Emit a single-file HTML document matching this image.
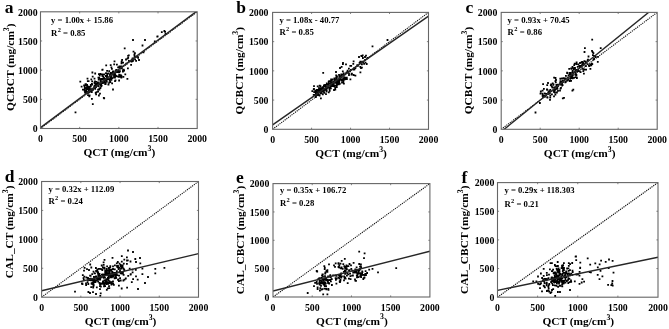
<!DOCTYPE html><html><head><meta charset="utf-8"><style>html,body{margin:0;padding:0;background:#fff;}svg{display:block;filter:grayscale(1);}</style></head><body>
<svg width="669" height="329" viewBox="0 0 669 329" font-family='"Liberation Serif", serif' font-weight="bold">
<rect width="669" height="329" fill="#fff"/>
<g>
<g>
<clipPath id="clipa"><rect x="40.5" y="11.8" width="156.70" height="116.70"/></clipPath>
<path d="M87.4 87.6h1.8v1.8h-1.8zM98.0 73.2h1.8v1.8h-1.8zM106.3 77.7h1.8v1.8h-1.8zM85.1 92.4h1.8v1.8h-1.8zM87.8 86.6h1.8v1.8h-1.8zM119.0 70.3h1.8v1.8h-1.8zM87.0 91.8h1.8v1.8h-1.8zM86.2 85.6h1.8v1.8h-1.8zM116.0 63.8h1.8v1.8h-1.8zM106.3 75.9h1.8v1.8h-1.8zM96.7 82.0h1.8v1.8h-1.8zM101.8 78.1h1.8v1.8h-1.8zM110.4 79.0h1.8v1.8h-1.8zM97.2 90.8h1.8v1.8h-1.8zM87.5 86.9h1.8v1.8h-1.8zM114.5 75.1h1.8v1.8h-1.8zM110.6 78.7h1.8v1.8h-1.8zM104.1 81.7h1.8v1.8h-1.8zM116.4 75.5h1.8v1.8h-1.8zM103.1 77.1h1.8v1.8h-1.8zM122.0 70.6h1.8v1.8h-1.8zM95.2 93.5h1.8v1.8h-1.8zM105.9 81.0h1.8v1.8h-1.8zM100.2 77.9h1.8v1.8h-1.8zM97.8 85.2h1.8v1.8h-1.8zM108.3 81.7h1.8v1.8h-1.8zM92.8 87.2h1.8v1.8h-1.8zM112.4 70.4h1.8v1.8h-1.8zM119.4 76.0h1.8v1.8h-1.8zM85.3 84.3h1.8v1.8h-1.8zM101.9 82.1h1.8v1.8h-1.8zM93.6 84.9h1.8v1.8h-1.8zM83.7 85.6h1.8v1.8h-1.8zM119.8 74.2h1.8v1.8h-1.8zM100.2 82.5h1.8v1.8h-1.8zM86.2 84.1h1.8v1.8h-1.8zM110.0 77.5h1.8v1.8h-1.8zM89.9 85.3h1.8v1.8h-1.8zM113.3 63.5h1.8v1.8h-1.8zM89.9 84.1h1.8v1.8h-1.8zM84.9 91.7h1.8v1.8h-1.8zM92.1 88.9h1.8v1.8h-1.8zM96.6 83.9h1.8v1.8h-1.8zM101.0 80.5h1.8v1.8h-1.8zM118.5 71.4h1.8v1.8h-1.8zM109.1 74.1h1.8v1.8h-1.8zM98.5 87.4h1.8v1.8h-1.8zM84.1 91.7h1.8v1.8h-1.8zM89.8 88.8h1.8v1.8h-1.8zM122.1 69.5h1.8v1.8h-1.8zM98.3 77.0h1.8v1.8h-1.8zM107.8 72.6h1.8v1.8h-1.8zM88.4 95.5h1.8v1.8h-1.8zM85.1 91.9h1.8v1.8h-1.8zM114.6 70.3h1.8v1.8h-1.8zM106.2 78.6h1.8v1.8h-1.8zM93.8 82.6h1.8v1.8h-1.8zM95.8 84.9h1.8v1.8h-1.8zM85.1 87.2h1.8v1.8h-1.8zM90.3 88.4h1.8v1.8h-1.8zM80.7 85.7h1.8v1.8h-1.8zM117.8 76.0h1.8v1.8h-1.8zM99.7 78.7h1.8v1.8h-1.8zM84.6 83.2h1.8v1.8h-1.8zM110.7 73.1h1.8v1.8h-1.8zM89.7 85.6h1.8v1.8h-1.8zM85.8 90.6h1.8v1.8h-1.8zM103.4 73.4h1.8v1.8h-1.8zM118.0 71.4h1.8v1.8h-1.8zM91.9 103.2h1.8v1.8h-1.8zM111.0 68.0h1.8v1.8h-1.8zM91.0 88.2h1.8v1.8h-1.8zM86.0 88.3h1.8v1.8h-1.8zM84.2 91.8h1.8v1.8h-1.8zM90.4 78.4h1.8v1.8h-1.8zM108.3 70.3h1.8v1.8h-1.8zM102.8 81.3h1.8v1.8h-1.8zM115.4 71.0h1.8v1.8h-1.8zM94.8 91.9h1.8v1.8h-1.8zM93.6 81.7h1.8v1.8h-1.8zM93.3 86.0h1.8v1.8h-1.8zM126.5 78.0h1.8v1.8h-1.8zM117.2 66.4h1.8v1.8h-1.8zM94.1 80.4h1.8v1.8h-1.8zM99.6 81.0h1.8v1.8h-1.8zM94.9 83.9h1.8v1.8h-1.8zM113.3 76.5h1.8v1.8h-1.8zM84.9 91.1h1.8v1.8h-1.8zM84.0 87.4h1.8v1.8h-1.8zM98.9 82.6h1.8v1.8h-1.8zM98.0 94.6h1.8v1.8h-1.8zM117.9 75.6h1.8v1.8h-1.8zM105.3 64.4h1.8v1.8h-1.8zM103.5 78.0h1.8v1.8h-1.8zM106.4 72.8h1.8v1.8h-1.8zM110.7 77.1h1.8v1.8h-1.8zM112.4 72.3h1.8v1.8h-1.8zM122.5 75.9h1.8v1.8h-1.8zM90.8 91.2h1.8v1.8h-1.8zM108.8 79.6h1.8v1.8h-1.8zM89.0 88.8h1.8v1.8h-1.8zM99.9 80.8h1.8v1.8h-1.8zM113.7 73.9h1.8v1.8h-1.8zM119.9 74.5h1.8v1.8h-1.8zM113.1 75.2h1.8v1.8h-1.8zM83.7 89.6h1.8v1.8h-1.8zM99.5 87.3h1.8v1.8h-1.8zM89.7 88.3h1.8v1.8h-1.8zM120.9 67.4h1.8v1.8h-1.8zM86.9 85.5h1.8v1.8h-1.8zM91.2 83.8h1.8v1.8h-1.8zM95.3 80.9h1.8v1.8h-1.8zM79.4 80.7h1.8v1.8h-1.8zM118.3 74.1h1.8v1.8h-1.8zM108.5 78.2h1.8v1.8h-1.8zM88.7 87.0h1.8v1.8h-1.8zM104.3 83.2h1.8v1.8h-1.8zM87.0 91.2h1.8v1.8h-1.8zM107.1 78.2h1.8v1.8h-1.8zM86.6 77.7h1.8v1.8h-1.8zM84.1 89.9h1.8v1.8h-1.8zM88.6 90.6h1.8v1.8h-1.8zM107.6 83.7h1.8v1.8h-1.8zM111.2 82.5h1.8v1.8h-1.8zM98.5 88.6h1.8v1.8h-1.8zM105.1 72.2h1.8v1.8h-1.8zM91.8 75.7h1.8v1.8h-1.8zM89.3 90.4h1.8v1.8h-1.8zM95.1 84.1h1.8v1.8h-1.8zM100.2 85.4h1.8v1.8h-1.8zM117.5 69.3h1.8v1.8h-1.8zM88.0 89.6h1.8v1.8h-1.8zM83.2 84.5h1.8v1.8h-1.8zM105.4 79.6h1.8v1.8h-1.8zM118.8 67.0h1.8v1.8h-1.8zM118.3 71.0h1.8v1.8h-1.8zM110.7 76.3h1.8v1.8h-1.8zM85.4 89.6h1.8v1.8h-1.8zM114.4 73.3h1.8v1.8h-1.8zM109.0 75.2h1.8v1.8h-1.8zM90.2 90.7h1.8v1.8h-1.8zM101.8 82.1h1.8v1.8h-1.8zM83.8 88.6h1.8v1.8h-1.8zM112.3 70.4h1.8v1.8h-1.8zM114.1 80.3h1.8v1.8h-1.8zM113.5 71.9h1.8v1.8h-1.8zM114.1 76.7h1.8v1.8h-1.8zM94.1 86.5h1.8v1.8h-1.8zM111.9 70.7h1.8v1.8h-1.8zM91.0 83.1h1.8v1.8h-1.8zM88.6 88.7h1.8v1.8h-1.8zM98.5 83.1h1.8v1.8h-1.8zM103.3 81.7h1.8v1.8h-1.8zM91.3 80.5h1.8v1.8h-1.8zM104.8 75.1h1.8v1.8h-1.8zM105.8 76.8h1.8v1.8h-1.8zM95.6 91.3h1.8v1.8h-1.8zM101.7 68.7h1.8v1.8h-1.8zM97.6 84.5h1.8v1.8h-1.8zM109.9 72.1h1.8v1.8h-1.8zM95.1 86.1h1.8v1.8h-1.8zM112.4 70.8h1.8v1.8h-1.8zM99.7 82.9h1.8v1.8h-1.8zM107.5 83.6h1.8v1.8h-1.8zM109.4 76.6h1.8v1.8h-1.8zM103.7 80.6h1.8v1.8h-1.8zM93.7 86.7h1.8v1.8h-1.8zM118.7 65.6h1.8v1.8h-1.8zM87.9 91.1h1.8v1.8h-1.8zM95.0 83.1h1.8v1.8h-1.8zM102.2 75.7h1.8v1.8h-1.8zM84.1 90.8h1.8v1.8h-1.8zM88.5 87.1h1.8v1.8h-1.8zM115.1 75.0h1.8v1.8h-1.8zM112.8 72.6h1.8v1.8h-1.8zM106.2 74.5h1.8v1.8h-1.8zM120.5 74.9h1.8v1.8h-1.8zM113.9 76.8h1.8v1.8h-1.8zM97.2 88.7h1.8v1.8h-1.8zM108.9 78.2h1.8v1.8h-1.8zM95.8 83.1h1.8v1.8h-1.8zM110.7 72.2h1.8v1.8h-1.8zM97.1 81.4h1.8v1.8h-1.8zM90.9 91.1h1.8v1.8h-1.8zM116.6 70.9h1.8v1.8h-1.8zM106.2 70.0h1.8v1.8h-1.8zM111.3 73.6h1.8v1.8h-1.8zM101.3 73.4h1.8v1.8h-1.8zM113.2 73.4h1.8v1.8h-1.8zM97.5 76.8h1.8v1.8h-1.8zM101.9 73.7h1.8v1.8h-1.8zM85.7 90.5h1.8v1.8h-1.8zM104.0 78.0h1.8v1.8h-1.8zM110.5 66.4h1.8v1.8h-1.8zM111.5 77.2h1.8v1.8h-1.8zM118.2 79.6h1.8v1.8h-1.8zM98.8 74.7h1.8v1.8h-1.8zM120.5 76.6h1.8v1.8h-1.8zM85.7 86.7h1.8v1.8h-1.8zM115.3 68.9h1.8v1.8h-1.8zM96.8 82.1h1.8v1.8h-1.8zM83.5 84.5h1.8v1.8h-1.8zM109.4 81.1h1.8v1.8h-1.8zM101.4 82.3h1.8v1.8h-1.8zM97.8 78.8h1.8v1.8h-1.8zM114.9 70.2h1.8v1.8h-1.8zM85.1 83.2h1.8v1.8h-1.8zM105.8 75.6h1.8v1.8h-1.8zM100.8 84.8h1.8v1.8h-1.8zM99.5 73.1h1.8v1.8h-1.8zM101.1 78.1h1.8v1.8h-1.8zM88.5 88.9h1.8v1.8h-1.8zM104.8 82.9h1.8v1.8h-1.8zM118.7 75.5h1.8v1.8h-1.8zM88.6 85.9h1.8v1.8h-1.8zM82.0 88.8h1.8v1.8h-1.8zM86.6 91.5h1.8v1.8h-1.8zM99.8 79.3h1.8v1.8h-1.8zM119.5 67.2h1.8v1.8h-1.8zM87.1 94.2h1.8v1.8h-1.8zM124.4 73.5h1.8v1.8h-1.8zM104.0 79.6h1.8v1.8h-1.8zM87.3 88.1h1.8v1.8h-1.8zM100.2 83.5h1.8v1.8h-1.8zM86.9 80.2h1.8v1.8h-1.8zM110.2 74.4h1.8v1.8h-1.8zM101.4 75.0h1.8v1.8h-1.8zM99.1 92.8h1.8v1.8h-1.8zM94.3 87.9h1.8v1.8h-1.8zM116.3 71.3h1.8v1.8h-1.8zM111.8 72.6h1.8v1.8h-1.8zM94.3 72.6h1.8v1.8h-1.8zM100.0 84.3h1.8v1.8h-1.8zM114.6 79.4h1.8v1.8h-1.8zM118.4 65.8h1.8v1.8h-1.8zM87.6 92.0h1.8v1.8h-1.8zM90.7 90.2h1.8v1.8h-1.8zM93.6 77.7h1.8v1.8h-1.8zM104.4 82.6h1.8v1.8h-1.8zM88.7 94.5h1.8v1.8h-1.8zM120.7 67.4h1.8v1.8h-1.8zM122.5 69.9h1.8v1.8h-1.8zM120.4 65.6h1.8v1.8h-1.8zM133.7 55.5h1.8v1.8h-1.8zM131.3 60.2h1.8v1.8h-1.8zM131.7 57.5h1.8v1.8h-1.8zM137.2 56.9h1.8v1.8h-1.8zM120.7 60.8h1.8v1.8h-1.8zM138.1 59.1h1.8v1.8h-1.8zM122.2 61.8h1.8v1.8h-1.8zM128.0 59.9h1.8v1.8h-1.8zM127.9 54.4h1.8v1.8h-1.8zM134.2 58.4h1.8v1.8h-1.8zM127.0 67.4h1.8v1.8h-1.8zM130.2 63.9h1.8v1.8h-1.8zM122.7 68.8h1.8v1.8h-1.8zM121.2 59.0h1.8v1.8h-1.8zM134.0 52.2h1.8v1.8h-1.8zM133.5 54.0h1.8v1.8h-1.8zM127.3 56.9h1.8v1.8h-1.8zM135.2 60.0h1.8v1.8h-1.8zM135.0 55.9h1.8v1.8h-1.8zM125.4 62.7h1.8v1.8h-1.8zM136.9 55.7h1.8v1.8h-1.8zM125.1 58.6h1.8v1.8h-1.8zM120.6 62.5h1.8v1.8h-1.8zM126.6 57.7h1.8v1.8h-1.8zM130.7 60.8h1.8v1.8h-1.8zM132.0 59.0h1.8v1.8h-1.8zM132.1 60.0h1.8v1.8h-1.8zM123.2 69.6h1.8v1.8h-1.8zM127.2 55.0h1.8v1.8h-1.8zM133.6 53.6h1.8v1.8h-1.8zM131.2 58.8h1.8v1.8h-1.8zM132.6 50.7h1.8v1.8h-1.8zM142.6 51.4h1.8v1.8h-1.8zM156.4 35.7h1.8v1.8h-1.8zM164.2 30.9h1.8v1.8h-1.8zM164.7 33.1h1.8v1.8h-1.8zM156.7 35.5h1.8v1.8h-1.8zM160.9 31.2h1.8v1.8h-1.8zM74.6 111.5h1.8v1.8h-1.8zM132.1 39.1h1.8v1.8h-1.8zM144.1 39.1h1.8v1.8h-1.8zM163.5 30.1h1.8v1.8h-1.8zM153.9 40.5h1.8v1.8h-1.8zM123.8 47.4h1.8v1.8h-1.8zM103.3 97.4h1.8v1.8h-1.8zM91.0 98.0h1.8v1.8h-1.8zM91.5 71.6h1.8v1.8h-1.8zM109.8 64.3h1.8v1.8h-1.8zM113.6 60.5h1.8v1.8h-1.8zM101.4 68.9h1.8v1.8h-1.8zM112.1 88.6h1.8v1.8h-1.8zM102.9 97.0h1.8v1.8h-1.8zM87.7 80.3h1.8v1.8h-1.8zM141.6 44.6h1.8v1.8h-1.8z" fill="#000" clip-path="url(#clipa)"/>
<line x1="40.5" y1="128.5" x2="197.2" y2="11.8" stroke="#111" stroke-width="1.1" stroke-dasharray="1.2 0.95" clip-path="url(#clipa)"/>
<line x1="40.50" y1="127.57" x2="197.20" y2="10.87" stroke="#262626" stroke-width="1.4" clip-path="url(#clipa)"/>
<rect x="40.5" y="11.8" width="156.70" height="116.70" fill="none" stroke="#666" stroke-width="1.1"/>
<path d="M79.67 128.5v-1.6M79.67 11.8v1.6M40.5 99.33h1.6M197.2 99.33h-1.6M118.85 128.5v-1.6M118.85 11.8v1.6M40.5 70.15h1.6M197.2 70.15h-1.6M158.02 128.5v-1.6M158.02 11.8v1.6M40.5 40.97h1.6M197.2 40.97h-1.6" stroke="#666" stroke-width="0.8"/>
<text x="40.50" y="142.10" font-size="9.8" text-anchor="middle">0</text>
<text x="37.60" y="132.30" font-size="9.8" text-anchor="end">0</text>
<text x="79.67" y="142.10" font-size="9.8" text-anchor="middle">500</text>
<text x="37.60" y="103.12" font-size="9.8" text-anchor="end">500</text>
<text x="118.85" y="142.10" font-size="9.8" text-anchor="middle">1000</text>
<text x="37.60" y="73.95" font-size="9.8" text-anchor="end">1000</text>
<text x="158.02" y="142.10" font-size="9.8" text-anchor="middle">1500</text>
<text x="37.60" y="44.77" font-size="9.8" text-anchor="end">1500</text>
<text x="197.20" y="142.10" font-size="9.8" text-anchor="middle">2000</text>
<text x="37.60" y="15.60" font-size="9.8" text-anchor="end">2000</text>
<text x="119.35" y="156.00" font-size="11.4" text-anchor="middle">QCT (mg/cm<tspan font-size="7.8" dy="-5.2">3</tspan><tspan dy="5.2">)</tspan></text>
<text transform="translate(14.00 67.20) rotate(-90)" x="0" y="0" font-size="11.4" text-anchor="middle">QCBCT (mg/cm<tspan font-size="7.8" dy="-5.2">3</tspan><tspan dy="5.2">)</tspan></text>
<text x="4.70" y="13.00" font-size="17.5">a</text>
<text x="51.00" y="23.40" font-size="8.7" xml:space="preserve">y = 1.00x + 15.86</text>
<text x="51.00" y="35.70" font-size="8.7">R<tspan font-size="6.4" dx="0.4" dy="-4">2</tspan><tspan dy="4"> = 0.85</tspan></text>
</g>
<g>
<clipPath id="clipb"><rect x="272.6" y="12.4" width="155.90" height="116.90"/></clipPath>
<path d="M329.8 85.4h1.8v1.8h-1.8zM315.1 94.5h1.8v1.8h-1.8zM315.0 95.4h1.8v1.8h-1.8zM321.7 88.9h1.8v1.8h-1.8zM333.7 85.3h1.8v1.8h-1.8zM338.9 82.9h1.8v1.8h-1.8zM342.4 73.5h1.8v1.8h-1.8zM341.1 81.7h1.8v1.8h-1.8zM343.4 76.6h1.8v1.8h-1.8zM332.7 80.6h1.8v1.8h-1.8zM336.2 79.3h1.8v1.8h-1.8zM334.3 87.0h1.8v1.8h-1.8zM317.0 94.3h1.8v1.8h-1.8zM312.8 88.4h1.8v1.8h-1.8zM337.5 79.7h1.8v1.8h-1.8zM319.4 89.5h1.8v1.8h-1.8zM338.1 78.6h1.8v1.8h-1.8zM327.3 83.9h1.8v1.8h-1.8zM311.4 90.2h1.8v1.8h-1.8zM332.2 85.2h1.8v1.8h-1.8zM326.1 83.3h1.8v1.8h-1.8zM315.0 91.4h1.8v1.8h-1.8zM320.7 87.4h1.8v1.8h-1.8zM322.0 86.3h1.8v1.8h-1.8zM325.1 88.9h1.8v1.8h-1.8zM336.2 81.4h1.8v1.8h-1.8zM317.6 89.0h1.8v1.8h-1.8zM326.1 83.3h1.8v1.8h-1.8zM331.9 81.3h1.8v1.8h-1.8zM344.6 78.3h1.8v1.8h-1.8zM316.9 91.8h1.8v1.8h-1.8zM315.9 92.7h1.8v1.8h-1.8zM318.8 89.3h1.8v1.8h-1.8zM319.8 88.9h1.8v1.8h-1.8zM318.6 91.1h1.8v1.8h-1.8zM313.1 88.0h1.8v1.8h-1.8zM321.9 93.4h1.8v1.8h-1.8zM319.2 87.7h1.8v1.8h-1.8zM327.7 83.4h1.8v1.8h-1.8zM335.6 84.6h1.8v1.8h-1.8zM325.0 87.4h1.8v1.8h-1.8zM318.5 90.6h1.8v1.8h-1.8zM315.4 90.5h1.8v1.8h-1.8zM319.5 85.2h1.8v1.8h-1.8zM318.8 90.9h1.8v1.8h-1.8zM330.0 87.4h1.8v1.8h-1.8zM339.8 75.5h1.8v1.8h-1.8zM337.8 83.4h1.8v1.8h-1.8zM318.1 87.3h1.8v1.8h-1.8zM313.3 91.3h1.8v1.8h-1.8zM315.9 93.5h1.8v1.8h-1.8zM327.0 85.5h1.8v1.8h-1.8zM325.6 88.4h1.8v1.8h-1.8zM334.0 79.3h1.8v1.8h-1.8zM314.4 89.7h1.8v1.8h-1.8zM318.8 84.7h1.8v1.8h-1.8zM333.5 78.2h1.8v1.8h-1.8zM329.9 80.7h1.8v1.8h-1.8zM327.8 80.8h1.8v1.8h-1.8zM342.4 77.6h1.8v1.8h-1.8zM315.9 90.0h1.8v1.8h-1.8zM316.8 85.5h1.8v1.8h-1.8zM334.4 88.7h1.8v1.8h-1.8zM330.1 81.3h1.8v1.8h-1.8zM342.8 72.6h1.8v1.8h-1.8zM346.0 78.3h1.8v1.8h-1.8zM333.4 85.4h1.8v1.8h-1.8zM335.9 77.0h1.8v1.8h-1.8zM333.5 77.4h1.8v1.8h-1.8zM316.1 88.9h1.8v1.8h-1.8zM333.8 85.0h1.8v1.8h-1.8zM322.5 87.2h1.8v1.8h-1.8zM323.5 85.1h1.8v1.8h-1.8zM318.1 90.6h1.8v1.8h-1.8zM314.9 96.2h1.8v1.8h-1.8zM338.6 74.7h1.8v1.8h-1.8zM335.5 79.5h1.8v1.8h-1.8zM335.4 76.6h1.8v1.8h-1.8zM325.1 93.2h1.8v1.8h-1.8zM328.8 90.0h1.8v1.8h-1.8zM320.0 92.5h1.8v1.8h-1.8zM332.2 82.2h1.8v1.8h-1.8zM340.8 79.6h1.8v1.8h-1.8zM335.3 74.5h1.8v1.8h-1.8zM343.3 76.9h1.8v1.8h-1.8zM319.7 85.8h1.8v1.8h-1.8zM333.8 77.6h1.8v1.8h-1.8zM316.2 89.7h1.8v1.8h-1.8zM329.8 82.9h1.8v1.8h-1.8zM317.4 92.9h1.8v1.8h-1.8zM331.3 85.2h1.8v1.8h-1.8zM330.8 84.2h1.8v1.8h-1.8zM323.0 85.1h1.8v1.8h-1.8zM325.2 88.7h1.8v1.8h-1.8zM335.7 80.2h1.8v1.8h-1.8zM330.0 87.4h1.8v1.8h-1.8zM325.0 84.0h1.8v1.8h-1.8zM313.1 85.3h1.8v1.8h-1.8zM321.5 87.3h1.8v1.8h-1.8zM343.0 82.8h1.8v1.8h-1.8zM344.8 76.7h1.8v1.8h-1.8zM324.8 86.3h1.8v1.8h-1.8zM342.1 79.5h1.8v1.8h-1.8zM341.7 78.6h1.8v1.8h-1.8zM320.7 90.6h1.8v1.8h-1.8zM321.2 87.4h1.8v1.8h-1.8zM335.5 80.9h1.8v1.8h-1.8zM323.2 88.4h1.8v1.8h-1.8zM342.8 74.5h1.8v1.8h-1.8zM323.3 84.3h1.8v1.8h-1.8zM336.6 80.4h1.8v1.8h-1.8zM337.0 82.7h1.8v1.8h-1.8zM320.8 91.1h1.8v1.8h-1.8zM341.5 78.7h1.8v1.8h-1.8zM324.3 88.7h1.8v1.8h-1.8zM320.0 97.4h1.8v1.8h-1.8zM315.0 93.3h1.8v1.8h-1.8zM328.9 87.6h1.8v1.8h-1.8zM335.9 86.3h1.8v1.8h-1.8zM321.9 88.7h1.8v1.8h-1.8zM340.4 78.6h1.8v1.8h-1.8zM323.0 91.0h1.8v1.8h-1.8zM342.4 81.7h1.8v1.8h-1.8zM314.6 93.7h1.8v1.8h-1.8zM322.0 89.6h1.8v1.8h-1.8zM318.3 90.9h1.8v1.8h-1.8zM325.9 82.6h1.8v1.8h-1.8zM325.8 89.6h1.8v1.8h-1.8zM325.4 85.7h1.8v1.8h-1.8zM338.1 74.0h1.8v1.8h-1.8zM331.5 82.6h1.8v1.8h-1.8zM330.2 78.5h1.8v1.8h-1.8zM324.3 84.1h1.8v1.8h-1.8zM339.0 78.7h1.8v1.8h-1.8zM328.0 82.3h1.8v1.8h-1.8zM338.4 82.2h1.8v1.8h-1.8zM340.4 73.4h1.8v1.8h-1.8zM333.0 82.9h1.8v1.8h-1.8zM327.8 86.8h1.8v1.8h-1.8zM323.4 92.0h1.8v1.8h-1.8zM343.5 78.8h1.8v1.8h-1.8zM337.9 80.0h1.8v1.8h-1.8zM338.8 79.0h1.8v1.8h-1.8zM320.1 89.4h1.8v1.8h-1.8zM328.6 88.1h1.8v1.8h-1.8zM340.5 75.8h1.8v1.8h-1.8zM321.7 90.2h1.8v1.8h-1.8zM339.0 78.4h1.8v1.8h-1.8zM330.7 84.2h1.8v1.8h-1.8zM319.8 89.0h1.8v1.8h-1.8zM327.9 91.5h1.8v1.8h-1.8zM314.7 90.7h1.8v1.8h-1.8zM335.0 81.7h1.8v1.8h-1.8zM336.7 80.8h1.8v1.8h-1.8zM314.8 94.5h1.8v1.8h-1.8zM323.3 89.1h1.8v1.8h-1.8zM338.3 80.4h1.8v1.8h-1.8zM320.8 92.1h1.8v1.8h-1.8zM328.3 80.3h1.8v1.8h-1.8zM338.9 78.7h1.8v1.8h-1.8zM329.7 80.3h1.8v1.8h-1.8zM317.3 91.9h1.8v1.8h-1.8zM340.7 74.1h1.8v1.8h-1.8zM335.8 77.7h1.8v1.8h-1.8zM331.1 83.0h1.8v1.8h-1.8zM325.6 90.6h1.8v1.8h-1.8zM332.5 84.2h1.8v1.8h-1.8zM326.0 87.1h1.8v1.8h-1.8zM318.7 94.6h1.8v1.8h-1.8zM315.8 89.2h1.8v1.8h-1.8zM330.2 83.5h1.8v1.8h-1.8zM338.1 80.5h1.8v1.8h-1.8zM336.1 75.6h1.8v1.8h-1.8zM341.9 70.4h1.8v1.8h-1.8zM347.3 70.9h1.8v1.8h-1.8zM333.2 81.0h1.8v1.8h-1.8zM349.1 70.5h1.8v1.8h-1.8zM344.9 72.4h1.8v1.8h-1.8zM343.9 77.8h1.8v1.8h-1.8zM342.0 79.3h1.8v1.8h-1.8zM350.6 73.6h1.8v1.8h-1.8zM338.4 75.9h1.8v1.8h-1.8zM337.2 79.4h1.8v1.8h-1.8zM339.5 77.3h1.8v1.8h-1.8zM331.5 78.4h1.8v1.8h-1.8zM342.3 78.8h1.8v1.8h-1.8zM338.8 78.6h1.8v1.8h-1.8zM340.0 76.2h1.8v1.8h-1.8zM342.5 80.3h1.8v1.8h-1.8zM335.5 82.4h1.8v1.8h-1.8zM345.9 76.7h1.8v1.8h-1.8zM336.3 83.2h1.8v1.8h-1.8zM343.9 77.4h1.8v1.8h-1.8zM330.7 79.3h1.8v1.8h-1.8zM340.3 76.3h1.8v1.8h-1.8zM336.9 82.3h1.8v1.8h-1.8zM338.4 76.3h1.8v1.8h-1.8zM336.4 79.8h1.8v1.8h-1.8zM330.2 84.4h1.8v1.8h-1.8zM336.2 84.0h1.8v1.8h-1.8zM346.7 69.7h1.8v1.8h-1.8zM352.9 68.8h1.8v1.8h-1.8zM356.4 64.3h1.8v1.8h-1.8zM350.3 65.0h1.8v1.8h-1.8zM348.0 67.7h1.8v1.8h-1.8zM362.3 61.2h1.8v1.8h-1.8zM353.5 67.3h1.8v1.8h-1.8zM364.2 58.9h1.8v1.8h-1.8zM354.5 74.7h1.8v1.8h-1.8zM359.8 61.4h1.8v1.8h-1.8zM353.2 67.7h1.8v1.8h-1.8zM362.0 57.1h1.8v1.8h-1.8zM358.7 61.9h1.8v1.8h-1.8zM361.0 63.5h1.8v1.8h-1.8zM348.1 73.0h1.8v1.8h-1.8zM361.4 60.7h1.8v1.8h-1.8zM353.6 68.4h1.8v1.8h-1.8zM361.5 61.4h1.8v1.8h-1.8zM360.4 55.0h1.8v1.8h-1.8zM342.0 63.2h1.8v1.8h-1.8zM349.5 78.5h1.8v1.8h-1.8zM363.2 63.0h1.8v1.8h-1.8zM366.3 57.5h1.8v1.8h-1.8zM361.8 54.5h1.8v1.8h-1.8zM352.4 63.0h1.8v1.8h-1.8zM365.8 63.1h1.8v1.8h-1.8zM340.7 66.0h1.8v1.8h-1.8zM345.8 71.4h1.8v1.8h-1.8zM359.4 65.9h1.8v1.8h-1.8zM357.0 65.0h1.8v1.8h-1.8zM364.6 61.7h1.8v1.8h-1.8zM350.0 69.0h1.8v1.8h-1.8zM359.5 71.5h1.8v1.8h-1.8zM365.1 54.8h1.8v1.8h-1.8zM349.4 65.0h1.8v1.8h-1.8zM354.5 67.3h1.8v1.8h-1.8zM361.0 66.8h1.8v1.8h-1.8zM366.9 57.0h1.8v1.8h-1.8zM351.0 72.7h1.8v1.8h-1.8zM359.4 60.8h1.8v1.8h-1.8zM371.6 45.4h1.8v1.8h-1.8zM386.6 39.1h1.8v1.8h-1.8zM312.8 93.9h1.8v1.8h-1.8zM322.3 71.9h1.8v1.8h-1.8zM335.1 71.1h1.8v1.8h-1.8zM342.1 62.1h1.8v1.8h-1.8zM339.1 67.1h1.8v1.8h-1.8zM345.1 63.5h1.8v1.8h-1.8zM352.7 60.5h1.8v1.8h-1.8zM360.1 67.3h1.8v1.8h-1.8zM348.1 74.1h1.8v1.8h-1.8zM352.7 74.1h1.8v1.8h-1.8zM358.1 56.1h1.8v1.8h-1.8zM361.1 55.1h1.8v1.8h-1.8zM364.1 56.1h1.8v1.8h-1.8zM329.1 87.1h1.8v1.8h-1.8zM333.1 89.1h1.8v1.8h-1.8z" fill="#000" clip-path="url(#clipb)"/>
<line x1="272.6" y1="129.3" x2="428.5" y2="12.4" stroke="#111" stroke-width="1.1" stroke-dasharray="1.2 0.95" clip-path="url(#clipb)"/>
<line x1="272.60" y1="124.86" x2="428.50" y2="16.14" stroke="#262626" stroke-width="1.4" clip-path="url(#clipb)"/>
<rect x="272.6" y="12.4" width="155.90" height="116.90" fill="none" stroke="#666" stroke-width="1.1"/>
<path d="M311.58 129.3v-1.6M311.58 12.4v1.6M272.6 100.08h1.6M428.5 100.08h-1.6M350.55 129.3v-1.6M350.55 12.4v1.6M272.6 70.85h1.6M428.5 70.85h-1.6M389.52 129.3v-1.6M389.52 12.4v1.6M272.6 41.63h1.6M428.5 41.63h-1.6" stroke="#666" stroke-width="0.8"/>
<text x="272.60" y="142.90" font-size="9.8" text-anchor="middle">0</text>
<text x="268.50" y="133.10" font-size="9.8" text-anchor="end">0</text>
<text x="311.58" y="142.90" font-size="9.8" text-anchor="middle">500</text>
<text x="268.50" y="103.88" font-size="9.8" text-anchor="end">500</text>
<text x="350.55" y="142.90" font-size="9.8" text-anchor="middle">1000</text>
<text x="268.50" y="74.65" font-size="9.8" text-anchor="end">1000</text>
<text x="389.52" y="142.90" font-size="9.8" text-anchor="middle">1500</text>
<text x="268.50" y="45.43" font-size="9.8" text-anchor="end">1500</text>
<text x="428.50" y="142.90" font-size="9.8" text-anchor="middle">2000</text>
<text x="268.50" y="16.20" font-size="9.8" text-anchor="end">2000</text>
<text x="351.05" y="156.80" font-size="11.4" text-anchor="middle">QCT (mg/cm<tspan font-size="7.8" dy="-5.2">3</tspan><tspan dy="5.2">)</tspan></text>
<text transform="translate(243.20 70.70) rotate(-90)" x="0" y="0" font-size="11.4" text-anchor="middle">QCBCT (mg/cm<tspan font-size="7.8" dy="-5.2">3</tspan><tspan dy="5.2">)</tspan></text>
<text x="236.30" y="12.80" font-size="17.5">b</text>
<text x="279.40" y="22.50" font-size="8.7" xml:space="preserve">y = 1.08x - 40.77</text>
<text x="279.40" y="35.30" font-size="8.7">R<tspan font-size="6.4" dx="0.4" dy="-4">2</tspan><tspan dy="4"> = 0.85</tspan></text>
</g>
<g>
<clipPath id="clipc"><rect x="501.2" y="12.4" width="156.00" height="116.90"/></clipPath>
<path d="M547.7 92.9h1.8v1.8h-1.8zM554.5 80.3h1.8v1.8h-1.8zM573.9 71.2h1.8v1.8h-1.8zM577.5 63.4h1.8v1.8h-1.8zM566.7 76.7h1.8v1.8h-1.8zM574.8 71.9h1.8v1.8h-1.8zM553.5 89.1h1.8v1.8h-1.8zM577.3 70.2h1.8v1.8h-1.8zM576.8 66.0h1.8v1.8h-1.8zM561.7 84.3h1.8v1.8h-1.8zM551.6 86.8h1.8v1.8h-1.8zM544.2 95.8h1.8v1.8h-1.8zM571.2 76.1h1.8v1.8h-1.8zM569.3 73.5h1.8v1.8h-1.8zM539.6 92.8h1.8v1.8h-1.8zM566.2 79.7h1.8v1.8h-1.8zM581.2 60.9h1.8v1.8h-1.8zM541.6 92.8h1.8v1.8h-1.8zM546.0 88.6h1.8v1.8h-1.8zM546.3 96.2h1.8v1.8h-1.8zM561.0 80.6h1.8v1.8h-1.8zM554.6 77.1h1.8v1.8h-1.8zM581.8 67.9h1.8v1.8h-1.8zM549.1 99.0h1.8v1.8h-1.8zM554.5 93.7h1.8v1.8h-1.8zM582.2 62.3h1.8v1.8h-1.8zM543.1 95.6h1.8v1.8h-1.8zM554.5 88.4h1.8v1.8h-1.8zM561.2 84.7h1.8v1.8h-1.8zM542.2 96.1h1.8v1.8h-1.8zM552.6 83.4h1.8v1.8h-1.8zM570.1 77.2h1.8v1.8h-1.8zM570.4 76.4h1.8v1.8h-1.8zM566.2 71.7h1.8v1.8h-1.8zM570.0 72.7h1.8v1.8h-1.8zM569.6 75.6h1.8v1.8h-1.8zM543.6 94.9h1.8v1.8h-1.8zM571.9 74.8h1.8v1.8h-1.8zM569.3 77.9h1.8v1.8h-1.8zM552.7 89.9h1.8v1.8h-1.8zM560.3 81.3h1.8v1.8h-1.8zM549.9 84.5h1.8v1.8h-1.8zM581.5 67.7h1.8v1.8h-1.8zM557.1 90.0h1.8v1.8h-1.8zM553.1 95.4h1.8v1.8h-1.8zM577.1 68.5h1.8v1.8h-1.8zM575.5 69.7h1.8v1.8h-1.8zM582.4 70.3h1.8v1.8h-1.8zM574.7 76.3h1.8v1.8h-1.8zM561.1 82.5h1.8v1.8h-1.8zM564.4 81.5h1.8v1.8h-1.8zM565.0 75.0h1.8v1.8h-1.8zM569.5 77.0h1.8v1.8h-1.8zM582.0 61.4h1.8v1.8h-1.8zM553.5 86.5h1.8v1.8h-1.8zM575.6 69.2h1.8v1.8h-1.8zM541.9 94.3h1.8v1.8h-1.8zM546.3 84.2h1.8v1.8h-1.8zM582.0 61.4h1.8v1.8h-1.8zM553.8 88.2h1.8v1.8h-1.8zM564.4 78.3h1.8v1.8h-1.8zM581.6 63.5h1.8v1.8h-1.8zM571.7 74.6h1.8v1.8h-1.8zM564.9 80.9h1.8v1.8h-1.8zM574.6 74.0h1.8v1.8h-1.8zM583.5 60.3h1.8v1.8h-1.8zM583.5 63.6h1.8v1.8h-1.8zM549.4 89.0h1.8v1.8h-1.8zM546.5 89.0h1.8v1.8h-1.8zM551.8 82.4h1.8v1.8h-1.8zM548.3 90.8h1.8v1.8h-1.8zM574.0 67.5h1.8v1.8h-1.8zM583.0 72.7h1.8v1.8h-1.8zM548.1 91.0h1.8v1.8h-1.8zM544.8 93.0h1.8v1.8h-1.8zM555.5 83.9h1.8v1.8h-1.8zM576.0 77.1h1.8v1.8h-1.8zM574.1 67.1h1.8v1.8h-1.8zM562.0 79.8h1.8v1.8h-1.8zM568.7 72.1h1.8v1.8h-1.8zM582.2 64.1h1.8v1.8h-1.8zM580.7 65.6h1.8v1.8h-1.8zM549.4 94.8h1.8v1.8h-1.8zM570.7 67.9h1.8v1.8h-1.8zM576.2 69.2h1.8v1.8h-1.8zM585.2 68.8h1.8v1.8h-1.8zM559.5 80.3h1.8v1.8h-1.8zM548.6 90.2h1.8v1.8h-1.8zM561.2 77.5h1.8v1.8h-1.8zM553.2 76.7h1.8v1.8h-1.8zM559.2 82.2h1.8v1.8h-1.8zM579.7 71.3h1.8v1.8h-1.8zM569.8 72.4h1.8v1.8h-1.8zM568.3 67.9h1.8v1.8h-1.8zM571.3 74.2h1.8v1.8h-1.8zM548.5 91.4h1.8v1.8h-1.8zM546.6 96.6h1.8v1.8h-1.8zM561.2 84.7h1.8v1.8h-1.8zM578.9 66.1h1.8v1.8h-1.8zM571.4 74.7h1.8v1.8h-1.8zM573.3 64.2h1.8v1.8h-1.8zM571.7 77.4h1.8v1.8h-1.8zM576.9 69.5h1.8v1.8h-1.8zM588.0 64.4h1.8v1.8h-1.8zM575.5 74.1h1.8v1.8h-1.8zM579.4 65.6h1.8v1.8h-1.8zM584.6 62.1h1.8v1.8h-1.8zM572.9 68.3h1.8v1.8h-1.8zM573.8 62.8h1.8v1.8h-1.8zM545.3 93.0h1.8v1.8h-1.8zM544.0 95.2h1.8v1.8h-1.8zM580.6 61.5h1.8v1.8h-1.8zM553.9 89.6h1.8v1.8h-1.8zM555.7 85.8h1.8v1.8h-1.8zM548.9 92.5h1.8v1.8h-1.8zM568.5 72.2h1.8v1.8h-1.8zM539.9 90.6h1.8v1.8h-1.8zM578.8 70.4h1.8v1.8h-1.8zM556.4 87.3h1.8v1.8h-1.8zM574.6 70.1h1.8v1.8h-1.8zM581.3 63.6h1.8v1.8h-1.8zM571.9 71.5h1.8v1.8h-1.8zM560.5 81.1h1.8v1.8h-1.8zM568.6 73.2h1.8v1.8h-1.8zM575.7 61.5h1.8v1.8h-1.8zM574.9 73.5h1.8v1.8h-1.8zM550.2 83.6h1.8v1.8h-1.8zM541.7 95.0h1.8v1.8h-1.8zM580.2 64.9h1.8v1.8h-1.8zM570.0 75.2h1.8v1.8h-1.8zM541.7 89.8h1.8v1.8h-1.8zM568.7 80.1h1.8v1.8h-1.8zM569.3 77.4h1.8v1.8h-1.8zM556.5 87.9h1.8v1.8h-1.8zM583.6 68.7h1.8v1.8h-1.8zM551.0 85.8h1.8v1.8h-1.8zM542.2 83.2h1.8v1.8h-1.8zM556.3 86.2h1.8v1.8h-1.8zM559.6 87.7h1.8v1.8h-1.8zM583.3 68.5h1.8v1.8h-1.8zM569.9 72.1h1.8v1.8h-1.8zM547.3 91.6h1.8v1.8h-1.8zM560.0 83.2h1.8v1.8h-1.8zM543.0 88.0h1.8v1.8h-1.8zM571.8 70.1h1.8v1.8h-1.8zM578.4 65.0h1.8v1.8h-1.8zM549.3 96.8h1.8v1.8h-1.8zM562.8 77.2h1.8v1.8h-1.8zM556.0 91.6h1.8v1.8h-1.8zM554.7 86.3h1.8v1.8h-1.8zM571.6 66.1h1.8v1.8h-1.8zM589.5 68.0h1.8v1.8h-1.8zM552.4 84.0h1.8v1.8h-1.8zM567.2 78.9h1.8v1.8h-1.8zM559.1 89.7h1.8v1.8h-1.8zM543.8 92.6h1.8v1.8h-1.8zM566.2 72.2h1.8v1.8h-1.8zM551.0 93.4h1.8v1.8h-1.8zM572.5 72.5h1.8v1.8h-1.8zM572.6 67.2h1.8v1.8h-1.8zM546.2 88.5h1.8v1.8h-1.8zM567.6 74.5h1.8v1.8h-1.8zM553.2 91.3h1.8v1.8h-1.8zM575.1 69.0h1.8v1.8h-1.8zM556.0 87.9h1.8v1.8h-1.8zM575.7 76.5h1.8v1.8h-1.8zM573.1 76.9h1.8v1.8h-1.8zM570.2 79.9h1.8v1.8h-1.8zM554.1 91.7h1.8v1.8h-1.8zM575.6 63.3h1.8v1.8h-1.8zM560.1 86.9h1.8v1.8h-1.8zM576.7 70.3h1.8v1.8h-1.8zM562.8 79.4h1.8v1.8h-1.8zM559.7 77.9h1.8v1.8h-1.8zM570.3 67.5h1.8v1.8h-1.8zM554.9 81.5h1.8v1.8h-1.8zM575.7 69.7h1.8v1.8h-1.8zM559.4 77.8h1.8v1.8h-1.8zM573.1 68.5h1.8v1.8h-1.8zM571.6 70.5h1.8v1.8h-1.8zM585.0 65.2h1.8v1.8h-1.8zM559.5 81.3h1.8v1.8h-1.8zM557.2 83.7h1.8v1.8h-1.8zM588.5 65.1h1.8v1.8h-1.8zM564.2 77.5h1.8v1.8h-1.8zM591.8 51.3h1.8v1.8h-1.8zM584.9 60.8h1.8v1.8h-1.8zM586.6 63.2h1.8v1.8h-1.8zM588.3 65.1h1.8v1.8h-1.8zM587.1 58.8h1.8v1.8h-1.8zM589.5 63.7h1.8v1.8h-1.8zM597.1 56.0h1.8v1.8h-1.8zM592.0 54.2h1.8v1.8h-1.8zM591.1 49.9h1.8v1.8h-1.8zM592.6 58.8h1.8v1.8h-1.8zM594.5 56.1h1.8v1.8h-1.8zM596.9 61.0h1.8v1.8h-1.8zM590.9 62.7h1.8v1.8h-1.8zM593.2 58.0h1.8v1.8h-1.8zM591.4 63.3h1.8v1.8h-1.8zM587.6 55.6h1.8v1.8h-1.8zM593.7 55.1h1.8v1.8h-1.8zM586.8 59.5h1.8v1.8h-1.8zM590.4 64.4h1.8v1.8h-1.8zM594.8 55.7h1.8v1.8h-1.8zM583.6 51.1h1.8v1.8h-1.8zM589.6 63.6h1.8v1.8h-1.8zM563.1 97.0h1.8v1.8h-1.8zM572.4 88.8h1.8v1.8h-1.8zM591.3 38.8h1.8v1.8h-1.8zM599.8 47.3h1.8v1.8h-1.8zM584.0 47.3h1.8v1.8h-1.8zM592.5 52.2h1.8v1.8h-1.8zM534.6 111.6h1.8v1.8h-1.8zM539.0 102.1h1.8v1.8h-1.8zM561.9 97.4h1.8v1.8h-1.8zM571.5 89.8h1.8v1.8h-1.8zM555.1 79.1h1.8v1.8h-1.8zM579.1 62.1h1.8v1.8h-1.8zM547.1 82.1h1.8v1.8h-1.8z" fill="#000" clip-path="url(#clipc)"/>
<line x1="501.2" y1="129.3" x2="657.2" y2="12.4" stroke="#111" stroke-width="1.1" stroke-dasharray="1.2 0.95" clip-path="url(#clipc)"/>
<line x1="501.20" y1="131.68" x2="657.20" y2="5.43" stroke="#262626" stroke-width="1.4" clip-path="url(#clipc)"/>
<rect x="501.2" y="12.4" width="156.00" height="116.90" fill="none" stroke="#666" stroke-width="1.1"/>
<path d="M540.20 129.3v-1.6M540.20 12.4v1.6M501.2 100.08h1.6M657.2 100.08h-1.6M579.20 129.3v-1.6M579.20 12.4v1.6M501.2 70.85h1.6M657.2 70.85h-1.6M618.20 129.3v-1.6M618.20 12.4v1.6M501.2 41.63h1.6M657.2 41.63h-1.6" stroke="#666" stroke-width="0.8"/>
<text x="501.20" y="142.90" font-size="9.8" text-anchor="middle">0</text>
<text x="497.40" y="133.10" font-size="9.8" text-anchor="end">0</text>
<text x="540.20" y="142.90" font-size="9.8" text-anchor="middle">500</text>
<text x="497.40" y="103.88" font-size="9.8" text-anchor="end">500</text>
<text x="579.20" y="142.90" font-size="9.8" text-anchor="middle">1000</text>
<text x="497.40" y="74.65" font-size="9.8" text-anchor="end">1000</text>
<text x="618.20" y="142.90" font-size="9.8" text-anchor="middle">1500</text>
<text x="497.40" y="45.43" font-size="9.8" text-anchor="end">1500</text>
<text x="657.20" y="142.90" font-size="9.8" text-anchor="middle">2000</text>
<text x="497.40" y="16.20" font-size="9.8" text-anchor="end">2000</text>
<text x="579.70" y="156.80" font-size="11.4" text-anchor="middle">QCT (mg/cm<tspan font-size="7.8" dy="-5.2">3</tspan><tspan dy="5.2">)</tspan></text>
<text transform="translate(471.90 70.50) rotate(-90)" x="0" y="0" font-size="11.4" text-anchor="middle">QCBCT (mg/cm<tspan font-size="7.8" dy="-5.2">3</tspan><tspan dy="5.2">)</tspan></text>
<text x="465.50" y="13.00" font-size="17.5">c</text>
<text x="507.60" y="22.50" font-size="8.7" xml:space="preserve">y = 0.93x + 70.45</text>
<text x="507.60" y="35.30" font-size="8.7">R<tspan font-size="6.4" dx="0.4" dy="-4">2</tspan><tspan dy="4"> = 0.86</tspan></text>
</g>
<g>
<clipPath id="clipd"><rect x="41.6" y="181.5" width="156.90" height="115.70"/></clipPath>
<path d="M93.3 277.8h1.8v1.8h-1.8zM109.4 265.2h1.8v1.8h-1.8zM97.7 275.6h1.8v1.8h-1.8zM108.1 285.2h1.8v1.8h-1.8zM108.8 269.2h1.8v1.8h-1.8zM103.5 267.8h1.8v1.8h-1.8zM93.6 280.9h1.8v1.8h-1.8zM119.8 279.6h1.8v1.8h-1.8zM108.7 280.4h1.8v1.8h-1.8zM102.5 273.8h1.8v1.8h-1.8zM111.0 275.0h1.8v1.8h-1.8zM97.9 278.8h1.8v1.8h-1.8zM124.9 277.6h1.8v1.8h-1.8zM108.4 287.2h1.8v1.8h-1.8zM107.0 274.1h1.8v1.8h-1.8zM108.6 282.1h1.8v1.8h-1.8zM93.0 276.0h1.8v1.8h-1.8zM91.4 281.9h1.8v1.8h-1.8zM104.3 269.8h1.8v1.8h-1.8zM106.0 270.5h1.8v1.8h-1.8zM118.2 274.7h1.8v1.8h-1.8zM106.9 269.5h1.8v1.8h-1.8zM92.7 283.4h1.8v1.8h-1.8zM108.1 271.2h1.8v1.8h-1.8zM112.2 274.0h1.8v1.8h-1.8zM113.9 272.7h1.8v1.8h-1.8zM106.4 272.9h1.8v1.8h-1.8zM90.3 279.4h1.8v1.8h-1.8zM117.1 278.9h1.8v1.8h-1.8zM99.4 295.0h1.8v1.8h-1.8zM107.8 267.5h1.8v1.8h-1.8zM86.7 281.2h1.8v1.8h-1.8zM111.2 272.8h1.8v1.8h-1.8zM93.6 272.4h1.8v1.8h-1.8zM115.2 274.6h1.8v1.8h-1.8zM121.0 266.3h1.8v1.8h-1.8zM115.6 272.3h1.8v1.8h-1.8zM92.3 285.5h1.8v1.8h-1.8zM90.4 266.6h1.8v1.8h-1.8zM94.2 279.2h1.8v1.8h-1.8zM110.9 276.5h1.8v1.8h-1.8zM105.7 269.4h1.8v1.8h-1.8zM105.6 278.2h1.8v1.8h-1.8zM107.0 276.9h1.8v1.8h-1.8zM108.9 272.2h1.8v1.8h-1.8zM111.7 280.9h1.8v1.8h-1.8zM119.6 264.1h1.8v1.8h-1.8zM103.4 279.4h1.8v1.8h-1.8zM105.1 273.8h1.8v1.8h-1.8zM81.9 274.3h1.8v1.8h-1.8zM88.7 277.9h1.8v1.8h-1.8zM95.3 275.4h1.8v1.8h-1.8zM91.5 283.2h1.8v1.8h-1.8zM103.6 266.7h1.8v1.8h-1.8zM114.0 272.0h1.8v1.8h-1.8zM97.9 274.2h1.8v1.8h-1.8zM100.0 285.8h1.8v1.8h-1.8zM96.2 270.6h1.8v1.8h-1.8zM105.9 281.3h1.8v1.8h-1.8zM95.0 267.1h1.8v1.8h-1.8zM108.1 276.6h1.8v1.8h-1.8zM106.1 274.2h1.8v1.8h-1.8zM107.3 276.9h1.8v1.8h-1.8zM110.3 269.8h1.8v1.8h-1.8zM100.8 264.6h1.8v1.8h-1.8zM102.6 266.6h1.8v1.8h-1.8zM123.6 278.7h1.8v1.8h-1.8zM102.8 277.0h1.8v1.8h-1.8zM110.4 268.8h1.8v1.8h-1.8zM104.8 280.6h1.8v1.8h-1.8zM97.1 272.6h1.8v1.8h-1.8zM97.1 272.6h1.8v1.8h-1.8zM92.6 270.8h1.8v1.8h-1.8zM104.6 282.3h1.8v1.8h-1.8zM99.1 288.2h1.8v1.8h-1.8zM97.2 271.2h1.8v1.8h-1.8zM116.4 274.2h1.8v1.8h-1.8zM102.8 281.5h1.8v1.8h-1.8zM118.0 284.7h1.8v1.8h-1.8zM102.7 261.4h1.8v1.8h-1.8zM112.4 274.3h1.8v1.8h-1.8zM97.3 280.8h1.8v1.8h-1.8zM102.6 266.9h1.8v1.8h-1.8zM131.7 271.4h1.8v1.8h-1.8zM112.1 274.7h1.8v1.8h-1.8zM114.6 277.2h1.8v1.8h-1.8zM104.7 271.7h1.8v1.8h-1.8zM112.7 275.8h1.8v1.8h-1.8zM89.7 275.0h1.8v1.8h-1.8zM94.6 281.1h1.8v1.8h-1.8zM107.7 275.4h1.8v1.8h-1.8zM111.2 271.4h1.8v1.8h-1.8zM96.7 268.6h1.8v1.8h-1.8zM103.1 285.4h1.8v1.8h-1.8zM100.5 282.7h1.8v1.8h-1.8zM102.0 281.0h1.8v1.8h-1.8zM89.2 274.8h1.8v1.8h-1.8zM87.1 277.1h1.8v1.8h-1.8zM104.2 285.2h1.8v1.8h-1.8zM85.2 284.1h1.8v1.8h-1.8zM91.3 273.2h1.8v1.8h-1.8zM95.8 277.5h1.8v1.8h-1.8zM91.7 279.0h1.8v1.8h-1.8zM105.1 273.9h1.8v1.8h-1.8zM96.8 271.4h1.8v1.8h-1.8zM103.6 282.9h1.8v1.8h-1.8zM92.7 281.5h1.8v1.8h-1.8zM94.6 276.3h1.8v1.8h-1.8zM106.2 265.5h1.8v1.8h-1.8zM105.9 271.4h1.8v1.8h-1.8zM97.8 276.8h1.8v1.8h-1.8zM107.8 279.7h1.8v1.8h-1.8zM104.3 273.1h1.8v1.8h-1.8zM105.9 281.5h1.8v1.8h-1.8zM120.0 272.5h1.8v1.8h-1.8zM97.4 272.5h1.8v1.8h-1.8zM103.6 258.9h1.8v1.8h-1.8zM105.7 268.0h1.8v1.8h-1.8zM98.2 267.9h1.8v1.8h-1.8zM90.0 277.7h1.8v1.8h-1.8zM110.5 275.9h1.8v1.8h-1.8zM107.3 282.9h1.8v1.8h-1.8zM103.2 275.5h1.8v1.8h-1.8zM101.4 269.1h1.8v1.8h-1.8zM105.9 289.0h1.8v1.8h-1.8zM93.4 279.7h1.8v1.8h-1.8zM105.4 273.5h1.8v1.8h-1.8zM82.9 278.7h1.8v1.8h-1.8zM100.5 268.2h1.8v1.8h-1.8zM87.4 283.1h1.8v1.8h-1.8zM99.3 278.8h1.8v1.8h-1.8zM112.3 283.0h1.8v1.8h-1.8zM101.2 282.7h1.8v1.8h-1.8zM98.5 281.9h1.8v1.8h-1.8zM109.7 281.7h1.8v1.8h-1.8zM99.2 274.9h1.8v1.8h-1.8zM97.5 274.3h1.8v1.8h-1.8zM98.2 276.5h1.8v1.8h-1.8zM117.1 265.1h1.8v1.8h-1.8zM109.4 273.4h1.8v1.8h-1.8zM107.2 272.8h1.8v1.8h-1.8zM90.6 282.6h1.8v1.8h-1.8zM109.1 274.3h1.8v1.8h-1.8zM86.1 268.3h1.8v1.8h-1.8zM107.6 274.9h1.8v1.8h-1.8zM92.3 286.7h1.8v1.8h-1.8zM120.9 260.7h1.8v1.8h-1.8zM83.4 275.8h1.8v1.8h-1.8zM115.5 273.0h1.8v1.8h-1.8zM109.3 266.4h1.8v1.8h-1.8zM82.6 277.2h1.8v1.8h-1.8zM99.9 276.8h1.8v1.8h-1.8zM116.1 264.9h1.8v1.8h-1.8zM114.9 274.8h1.8v1.8h-1.8zM85.1 282.4h1.8v1.8h-1.8zM95.2 270.1h1.8v1.8h-1.8zM89.8 279.0h1.8v1.8h-1.8zM92.8 284.6h1.8v1.8h-1.8zM95.3 276.6h1.8v1.8h-1.8zM122.7 273.9h1.8v1.8h-1.8zM104.6 279.3h1.8v1.8h-1.8zM99.6 275.2h1.8v1.8h-1.8zM100.1 282.4h1.8v1.8h-1.8zM110.0 276.5h1.8v1.8h-1.8zM108.5 268.7h1.8v1.8h-1.8zM93.2 281.2h1.8v1.8h-1.8zM119.2 277.3h1.8v1.8h-1.8zM91.8 283.3h1.8v1.8h-1.8zM98.6 273.1h1.8v1.8h-1.8zM107.8 277.5h1.8v1.8h-1.8zM122.5 279.6h1.8v1.8h-1.8zM99.0 278.2h1.8v1.8h-1.8zM107.0 282.1h1.8v1.8h-1.8zM118.0 280.2h1.8v1.8h-1.8zM109.0 274.3h1.8v1.8h-1.8zM115.3 277.0h1.8v1.8h-1.8zM113.1 271.9h1.8v1.8h-1.8zM106.5 281.5h1.8v1.8h-1.8zM109.0 274.0h1.8v1.8h-1.8zM111.5 270.7h1.8v1.8h-1.8zM102.0 276.0h1.8v1.8h-1.8zM119.4 271.7h1.8v1.8h-1.8zM81.6 283.2h1.8v1.8h-1.8zM93.1 281.0h1.8v1.8h-1.8zM116.3 266.0h1.8v1.8h-1.8zM106.1 271.4h1.8v1.8h-1.8zM95.9 279.8h1.8v1.8h-1.8zM107.1 277.9h1.8v1.8h-1.8zM114.1 273.9h1.8v1.8h-1.8zM99.8 292.4h1.8v1.8h-1.8zM112.1 280.6h1.8v1.8h-1.8zM101.0 276.0h1.8v1.8h-1.8zM102.1 280.6h1.8v1.8h-1.8zM103.4 283.9h1.8v1.8h-1.8zM114.8 275.5h1.8v1.8h-1.8zM88.1 269.1h1.8v1.8h-1.8zM98.6 277.7h1.8v1.8h-1.8zM109.6 274.9h1.8v1.8h-1.8zM92.1 291.3h1.8v1.8h-1.8zM83.1 269.7h1.8v1.8h-1.8zM110.5 283.6h1.8v1.8h-1.8zM102.2 275.3h1.8v1.8h-1.8zM102.1 281.9h1.8v1.8h-1.8zM103.6 274.2h1.8v1.8h-1.8zM92.2 279.7h1.8v1.8h-1.8zM135.1 275.5h1.8v1.8h-1.8zM92.0 279.2h1.8v1.8h-1.8zM99.1 283.3h1.8v1.8h-1.8zM87.1 279.3h1.8v1.8h-1.8zM97.4 275.0h1.8v1.8h-1.8zM118.5 271.3h1.8v1.8h-1.8zM102.0 273.4h1.8v1.8h-1.8zM108.6 274.2h1.8v1.8h-1.8zM99.0 285.2h1.8v1.8h-1.8zM120.3 265.2h1.8v1.8h-1.8zM102.0 266.5h1.8v1.8h-1.8zM89.0 279.3h1.8v1.8h-1.8zM112.9 283.9h1.8v1.8h-1.8zM99.8 283.2h1.8v1.8h-1.8zM110.7 282.3h1.8v1.8h-1.8zM105.6 283.1h1.8v1.8h-1.8zM104.3 271.6h1.8v1.8h-1.8zM104.1 276.7h1.8v1.8h-1.8zM89.3 263.6h1.8v1.8h-1.8zM85.5 276.6h1.8v1.8h-1.8zM113.7 277.4h1.8v1.8h-1.8zM99.0 267.9h1.8v1.8h-1.8zM102.8 264.0h1.8v1.8h-1.8zM95.8 270.2h1.8v1.8h-1.8zM81.0 282.6h1.8v1.8h-1.8zM90.3 286.2h1.8v1.8h-1.8zM120.8 287.6h1.8v1.8h-1.8zM95.9 286.4h1.8v1.8h-1.8zM96.4 268.8h1.8v1.8h-1.8zM83.7 266.9h1.8v1.8h-1.8zM97.0 278.6h1.8v1.8h-1.8zM99.8 283.4h1.8v1.8h-1.8zM98.0 267.9h1.8v1.8h-1.8zM101.0 273.7h1.8v1.8h-1.8zM95.1 275.5h1.8v1.8h-1.8zM96.3 278.1h1.8v1.8h-1.8zM102.1 275.5h1.8v1.8h-1.8zM106.6 278.7h1.8v1.8h-1.8zM102.3 282.9h1.8v1.8h-1.8zM121.2 272.6h1.8v1.8h-1.8zM105.6 280.3h1.8v1.8h-1.8zM106.8 287.4h1.8v1.8h-1.8zM94.1 272.4h1.8v1.8h-1.8zM112.1 268.1h1.8v1.8h-1.8zM92.1 282.0h1.8v1.8h-1.8zM87.5 291.1h1.8v1.8h-1.8zM92.2 280.0h1.8v1.8h-1.8zM110.5 281.3h1.8v1.8h-1.8zM89.8 277.7h1.8v1.8h-1.8zM117.5 278.6h1.8v1.8h-1.8zM111.6 256.9h1.8v1.8h-1.8zM119.8 265.5h1.8v1.8h-1.8zM118.6 267.0h1.8v1.8h-1.8zM119.1 269.6h1.8v1.8h-1.8zM122.9 262.7h1.8v1.8h-1.8zM121.7 264.6h1.8v1.8h-1.8zM113.9 268.4h1.8v1.8h-1.8zM120.8 264.6h1.8v1.8h-1.8zM108.1 267.1h1.8v1.8h-1.8zM121.6 266.5h1.8v1.8h-1.8zM129.6 260.6h1.8v1.8h-1.8zM120.2 271.4h1.8v1.8h-1.8zM118.6 262.8h1.8v1.8h-1.8zM117.0 266.5h1.8v1.8h-1.8zM120.6 264.6h1.8v1.8h-1.8zM114.0 264.4h1.8v1.8h-1.8zM120.3 267.7h1.8v1.8h-1.8zM116.0 270.2h1.8v1.8h-1.8zM115.5 271.8h1.8v1.8h-1.8zM117.7 268.3h1.8v1.8h-1.8zM116.2 264.9h1.8v1.8h-1.8zM108.7 270.9h1.8v1.8h-1.8zM126.1 259.6h1.8v1.8h-1.8zM117.5 266.5h1.8v1.8h-1.8zM108.7 269.7h1.8v1.8h-1.8zM122.4 267.4h1.8v1.8h-1.8zM115.9 262.5h1.8v1.8h-1.8zM116.9 261.1h1.8v1.8h-1.8zM121.3 271.5h1.8v1.8h-1.8zM112.1 265.4h1.8v1.8h-1.8zM141.5 267.7h1.8v1.8h-1.8zM123.4 258.8h1.8v1.8h-1.8zM136.8 278.7h1.8v1.8h-1.8zM141.5 273.3h1.8v1.8h-1.8zM126.2 286.7h1.8v1.8h-1.8zM120.9 255.3h1.8v1.8h-1.8zM129.7 273.6h1.8v1.8h-1.8zM131.6 268.7h1.8v1.8h-1.8zM134.9 269.0h1.8v1.8h-1.8zM132.2 278.2h1.8v1.8h-1.8zM126.0 262.9h1.8v1.8h-1.8zM122.8 267.9h1.8v1.8h-1.8zM126.9 259.4h1.8v1.8h-1.8zM129.9 273.2h1.8v1.8h-1.8zM123.4 269.1h1.8v1.8h-1.8zM126.0 256.5h1.8v1.8h-1.8zM139.4 262.5h1.8v1.8h-1.8zM128.8 267.8h1.8v1.8h-1.8zM122.0 272.1h1.8v1.8h-1.8zM134.4 258.1h1.8v1.8h-1.8zM127.3 274.9h1.8v1.8h-1.8zM130.9 281.3h1.8v1.8h-1.8zM154.4 267.9h1.8v1.8h-1.8zM163.5 266.9h1.8v1.8h-1.8zM147.1 276.1h1.8v1.8h-1.8zM154.4 272.4h1.8v1.8h-1.8zM81.4 282.5h1.8v1.8h-1.8zM74.1 290.7h1.8v1.8h-1.8zM127.1 249.6h1.8v1.8h-1.8zM132.1 251.1h1.8v1.8h-1.8zM139.1 257.1h1.8v1.8h-1.8zM135.1 261.1h1.8v1.8h-1.8zM144.1 282.1h1.8v1.8h-1.8zM137.1 288.1h1.8v1.8h-1.8zM89.1 292.1h1.8v1.8h-1.8zM95.1 293.1h1.8v1.8h-1.8z" fill="#000" clip-path="url(#clipd)"/>
<line x1="41.6" y1="297.2" x2="198.5" y2="181.5" stroke="#111" stroke-width="1.1" stroke-dasharray="1.2 0.95" clip-path="url(#clipd)"/>
<line x1="41.60" y1="290.72" x2="198.50" y2="253.69" stroke="#262626" stroke-width="1.4" clip-path="url(#clipd)"/>
<rect x="41.6" y="181.5" width="156.90" height="115.70" fill="none" stroke="#666" stroke-width="1.1"/>
<path d="M80.83 297.2v-1.6M80.83 181.5v1.6M41.6 268.27h1.6M198.5 268.27h-1.6M120.05 297.2v-1.6M120.05 181.5v1.6M41.6 239.35h1.6M198.5 239.35h-1.6M159.28 297.2v-1.6M159.28 181.5v1.6M41.6 210.43h1.6M198.5 210.43h-1.6" stroke="#666" stroke-width="0.8"/>
<text x="41.60" y="310.80" font-size="9.8" text-anchor="middle">0</text>
<text x="37.80" y="301.00" font-size="9.8" text-anchor="end">0</text>
<text x="80.83" y="310.80" font-size="9.8" text-anchor="middle">500</text>
<text x="37.80" y="272.07" font-size="9.8" text-anchor="end">500</text>
<text x="120.05" y="310.80" font-size="9.8" text-anchor="middle">1000</text>
<text x="37.80" y="243.15" font-size="9.8" text-anchor="end">1000</text>
<text x="159.28" y="310.80" font-size="9.8" text-anchor="middle">1500</text>
<text x="37.80" y="214.23" font-size="9.8" text-anchor="end">1500</text>
<text x="198.50" y="310.80" font-size="9.8" text-anchor="middle">2000</text>
<text x="37.80" y="185.30" font-size="9.8" text-anchor="end">2000</text>
<text x="120.55" y="324.70" font-size="11.4" text-anchor="middle">QCT (mg/cm<tspan font-size="7.8" dy="-5.2">3</tspan><tspan dy="5.2">)</tspan></text>
<text transform="translate(13.00 231.85) rotate(-90)" x="0" y="0" font-size="11.4" text-anchor="middle">CAL_CT (mg/cm<tspan font-size="7.8" dy="-5.2">3</tspan><tspan dy="5.2">)</tspan></text>
<text x="4.70" y="182.30" font-size="17.5">d</text>
<text x="48.40" y="191.50" font-size="8.7" xml:space="preserve">y = 0.32x + 112.09</text>
<text x="48.40" y="204.30" font-size="8.7">R<tspan font-size="6.4" dx="0.4" dy="-4">2</tspan><tspan dy="4"> = 0.24</tspan></text>
</g>
<g>
<clipPath id="clipe"><rect x="273.0" y="183.6" width="156.90" height="113.40"/></clipPath>
<path d="M318.2 277.4h1.8v1.8h-1.8zM324.6 278.9h1.8v1.8h-1.8zM323.8 268.2h1.8v1.8h-1.8zM323.5 282.3h1.8v1.8h-1.8zM321.4 278.5h1.8v1.8h-1.8zM323.4 281.3h1.8v1.8h-1.8zM320.7 282.3h1.8v1.8h-1.8zM315.8 270.1h1.8v1.8h-1.8zM326.5 293.5h1.8v1.8h-1.8zM318.6 281.2h1.8v1.8h-1.8zM322.2 281.4h1.8v1.8h-1.8zM326.5 270.6h1.8v1.8h-1.8zM323.3 283.9h1.8v1.8h-1.8zM335.5 282.8h1.8v1.8h-1.8zM316.9 278.6h1.8v1.8h-1.8zM319.8 282.0h1.8v1.8h-1.8zM323.6 287.7h1.8v1.8h-1.8zM329.3 278.9h1.8v1.8h-1.8zM322.1 275.8h1.8v1.8h-1.8zM316.7 288.1h1.8v1.8h-1.8zM328.3 282.3h1.8v1.8h-1.8zM319.0 279.9h1.8v1.8h-1.8zM322.3 293.5h1.8v1.8h-1.8zM327.1 281.8h1.8v1.8h-1.8zM320.1 280.0h1.8v1.8h-1.8zM321.1 282.4h1.8v1.8h-1.8zM325.4 278.7h1.8v1.8h-1.8zM322.2 282.1h1.8v1.8h-1.8zM324.4 281.7h1.8v1.8h-1.8zM318.9 277.3h1.8v1.8h-1.8zM322.6 279.5h1.8v1.8h-1.8zM318.2 282.6h1.8v1.8h-1.8zM316.1 283.0h1.8v1.8h-1.8zM331.0 284.1h1.8v1.8h-1.8zM325.2 285.2h1.8v1.8h-1.8zM327.3 282.2h1.8v1.8h-1.8zM318.8 283.7h1.8v1.8h-1.8zM323.0 278.7h1.8v1.8h-1.8zM322.2 279.4h1.8v1.8h-1.8zM316.7 286.5h1.8v1.8h-1.8zM325.6 269.9h1.8v1.8h-1.8zM319.9 282.8h1.8v1.8h-1.8zM322.2 298.1h1.8v1.8h-1.8zM316.3 270.6h1.8v1.8h-1.8zM327.6 289.0h1.8v1.8h-1.8zM326.5 271.0h1.8v1.8h-1.8zM324.9 282.7h1.8v1.8h-1.8zM319.0 289.6h1.8v1.8h-1.8zM320.7 288.8h1.8v1.8h-1.8zM328.6 275.6h1.8v1.8h-1.8zM321.9 273.4h1.8v1.8h-1.8zM324.3 272.6h1.8v1.8h-1.8zM323.8 284.4h1.8v1.8h-1.8zM318.1 278.3h1.8v1.8h-1.8zM330.0 280.5h1.8v1.8h-1.8zM314.2 281.9h1.8v1.8h-1.8zM324.1 282.7h1.8v1.8h-1.8zM322.7 283.4h1.8v1.8h-1.8zM315.8 281.1h1.8v1.8h-1.8zM324.6 271.6h1.8v1.8h-1.8zM325.5 288.4h1.8v1.8h-1.8zM323.4 265.3h1.8v1.8h-1.8zM319.4 287.2h1.8v1.8h-1.8zM325.1 277.0h1.8v1.8h-1.8zM328.1 279.3h1.8v1.8h-1.8zM324.1 277.5h1.8v1.8h-1.8zM330.9 278.3h1.8v1.8h-1.8zM327.0 280.2h1.8v1.8h-1.8zM326.6 278.8h1.8v1.8h-1.8zM329.4 274.3h1.8v1.8h-1.8zM320.1 285.0h1.8v1.8h-1.8zM320.8 277.1h1.8v1.8h-1.8zM325.4 287.7h1.8v1.8h-1.8zM325.5 279.5h1.8v1.8h-1.8zM329.9 276.4h1.8v1.8h-1.8zM328.3 282.7h1.8v1.8h-1.8zM323.9 285.2h1.8v1.8h-1.8zM324.1 275.2h1.8v1.8h-1.8zM321.9 278.7h1.8v1.8h-1.8zM321.5 288.2h1.8v1.8h-1.8zM321.1 274.8h1.8v1.8h-1.8zM327.2 275.6h1.8v1.8h-1.8zM321.0 281.2h1.8v1.8h-1.8zM321.6 273.6h1.8v1.8h-1.8zM323.9 266.7h1.8v1.8h-1.8zM333.1 264.5h1.8v1.8h-1.8zM344.4 265.9h1.8v1.8h-1.8zM345.9 265.5h1.8v1.8h-1.8zM345.6 264.4h1.8v1.8h-1.8zM344.5 269.9h1.8v1.8h-1.8zM335.5 274.9h1.8v1.8h-1.8zM346.0 268.5h1.8v1.8h-1.8zM348.6 269.2h1.8v1.8h-1.8zM338.5 266.7h1.8v1.8h-1.8zM347.5 265.2h1.8v1.8h-1.8zM340.3 272.4h1.8v1.8h-1.8zM343.4 265.2h1.8v1.8h-1.8zM344.3 267.3h1.8v1.8h-1.8zM334.1 265.9h1.8v1.8h-1.8zM350.4 267.9h1.8v1.8h-1.8zM337.6 266.1h1.8v1.8h-1.8zM341.8 267.9h1.8v1.8h-1.8zM339.6 262.7h1.8v1.8h-1.8zM344.8 265.9h1.8v1.8h-1.8zM344.7 270.1h1.8v1.8h-1.8zM342.4 263.3h1.8v1.8h-1.8zM350.1 264.4h1.8v1.8h-1.8zM343.9 270.1h1.8v1.8h-1.8zM340.1 267.4h1.8v1.8h-1.8zM326.5 269.2h1.8v1.8h-1.8zM340.8 260.0h1.8v1.8h-1.8zM340.7 266.6h1.8v1.8h-1.8zM337.5 262.6h1.8v1.8h-1.8zM337.6 262.3h1.8v1.8h-1.8zM345.6 267.4h1.8v1.8h-1.8zM348.1 269.5h1.8v1.8h-1.8zM352.7 262.0h1.8v1.8h-1.8zM348.6 263.1h1.8v1.8h-1.8zM338.4 264.6h1.8v1.8h-1.8zM343.7 265.9h1.8v1.8h-1.8zM334.8 262.5h1.8v1.8h-1.8zM346.3 272.5h1.8v1.8h-1.8zM344.3 267.9h1.8v1.8h-1.8zM340.3 276.7h1.8v1.8h-1.8zM339.4 280.0h1.8v1.8h-1.8zM355.1 280.0h1.8v1.8h-1.8zM354.6 280.0h1.8v1.8h-1.8zM339.6 279.0h1.8v1.8h-1.8zM344.2 272.9h1.8v1.8h-1.8zM349.2 272.7h1.8v1.8h-1.8zM335.8 277.6h1.8v1.8h-1.8zM339.0 274.6h1.8v1.8h-1.8zM349.7 278.3h1.8v1.8h-1.8zM338.4 277.5h1.8v1.8h-1.8zM339.9 273.4h1.8v1.8h-1.8zM334.8 274.4h1.8v1.8h-1.8zM338.1 274.1h1.8v1.8h-1.8zM346.0 274.8h1.8v1.8h-1.8zM337.7 276.6h1.8v1.8h-1.8zM335.0 278.9h1.8v1.8h-1.8zM338.8 280.6h1.8v1.8h-1.8zM352.0 274.6h1.8v1.8h-1.8zM343.2 275.6h1.8v1.8h-1.8zM339.1 281.2h1.8v1.8h-1.8zM343.1 279.4h1.8v1.8h-1.8zM344.7 277.7h1.8v1.8h-1.8zM342.9 270.9h1.8v1.8h-1.8zM332.2 274.5h1.8v1.8h-1.8zM343.8 277.5h1.8v1.8h-1.8zM341.0 275.5h1.8v1.8h-1.8zM346.8 282.3h1.8v1.8h-1.8zM334.7 277.3h1.8v1.8h-1.8zM348.0 277.8h1.8v1.8h-1.8zM339.4 274.2h1.8v1.8h-1.8zM332.7 274.4h1.8v1.8h-1.8zM349.5 275.3h1.8v1.8h-1.8zM339.3 275.4h1.8v1.8h-1.8zM344.2 276.5h1.8v1.8h-1.8zM359.7 272.6h1.8v1.8h-1.8zM358.3 263.1h1.8v1.8h-1.8zM362.5 273.9h1.8v1.8h-1.8zM352.3 271.7h1.8v1.8h-1.8zM358.7 268.3h1.8v1.8h-1.8zM359.4 275.4h1.8v1.8h-1.8zM364.7 270.3h1.8v1.8h-1.8zM357.5 276.3h1.8v1.8h-1.8zM359.6 273.9h1.8v1.8h-1.8zM354.5 271.2h1.8v1.8h-1.8zM360.2 276.2h1.8v1.8h-1.8zM360.0 274.9h1.8v1.8h-1.8zM355.3 270.5h1.8v1.8h-1.8zM355.7 266.4h1.8v1.8h-1.8zM357.8 270.1h1.8v1.8h-1.8zM360.7 274.1h1.8v1.8h-1.8zM353.1 271.6h1.8v1.8h-1.8zM362.4 278.1h1.8v1.8h-1.8zM356.8 273.2h1.8v1.8h-1.8zM366.2 272.1h1.8v1.8h-1.8zM364.4 273.0h1.8v1.8h-1.8zM356.1 269.0h1.8v1.8h-1.8zM355.4 271.9h1.8v1.8h-1.8zM368.3 268.8h1.8v1.8h-1.8zM360.0 263.4h1.8v1.8h-1.8zM359.9 265.4h1.8v1.8h-1.8zM356.5 274.9h1.8v1.8h-1.8zM357.4 270.5h1.8v1.8h-1.8zM361.5 271.3h1.8v1.8h-1.8zM360.2 266.5h1.8v1.8h-1.8zM354.4 270.3h1.8v1.8h-1.8zM363.6 274.5h1.8v1.8h-1.8zM359.4 272.3h1.8v1.8h-1.8zM353.9 270.6h1.8v1.8h-1.8zM362.8 277.2h1.8v1.8h-1.8zM357.3 271.9h1.8v1.8h-1.8zM361.3 270.5h1.8v1.8h-1.8zM356.1 276.4h1.8v1.8h-1.8zM359.1 265.7h1.8v1.8h-1.8zM351.4 274.7h1.8v1.8h-1.8zM359.3 267.9h1.8v1.8h-1.8zM351.4 269.8h1.8v1.8h-1.8zM358.6 269.5h1.8v1.8h-1.8zM347.4 273.5h1.8v1.8h-1.8zM357.9 272.5h1.8v1.8h-1.8zM361.2 272.9h1.8v1.8h-1.8zM360.2 272.7h1.8v1.8h-1.8zM363.6 276.7h1.8v1.8h-1.8zM354.1 278.6h1.8v1.8h-1.8zM364.9 274.1h1.8v1.8h-1.8zM365.1 274.2h1.8v1.8h-1.8zM352.9 271.2h1.8v1.8h-1.8zM354.4 268.4h1.8v1.8h-1.8zM355.9 274.4h1.8v1.8h-1.8zM358.0 272.2h1.8v1.8h-1.8zM358.3 250.7h1.8v1.8h-1.8zM363.7 252.5h1.8v1.8h-1.8zM363.1 257.3h1.8v1.8h-1.8zM343.9 258.0h1.8v1.8h-1.8zM328.1 263.5h1.8v1.8h-1.8zM313.1 285.3h1.8v1.8h-1.8zM327.5 288.1h1.8v1.8h-1.8zM371.6 267.9h1.8v1.8h-1.8zM377.1 271.5h1.8v1.8h-1.8zM395.3 267.3h1.8v1.8h-1.8zM306.8 292.1h1.8v1.8h-1.8z" fill="#000" clip-path="url(#clipe)"/>
<line x1="273.0" y1="297.0" x2="429.9" y2="183.6" stroke="#111" stroke-width="1.1" stroke-dasharray="1.2 0.95" clip-path="url(#clipe)"/>
<line x1="273.00" y1="290.95" x2="429.90" y2="251.26" stroke="#262626" stroke-width="1.4" clip-path="url(#clipe)"/>
<rect x="273.0" y="183.6" width="156.90" height="113.40" fill="none" stroke="#666" stroke-width="1.1"/>
<path d="M312.23 297.0v-1.6M312.23 183.6v1.6M273.0 268.65h1.6M429.9 268.65h-1.6M351.45 297.0v-1.6M351.45 183.6v1.6M273.0 240.30h1.6M429.9 240.30h-1.6M390.67 297.0v-1.6M390.67 183.6v1.6M273.0 211.95h1.6M429.9 211.95h-1.6" stroke="#666" stroke-width="0.8"/>
<text x="273.00" y="310.60" font-size="9.8" text-anchor="middle">0</text>
<text x="269.30" y="300.80" font-size="9.8" text-anchor="end">0</text>
<text x="312.23" y="310.60" font-size="9.8" text-anchor="middle">500</text>
<text x="269.30" y="272.45" font-size="9.8" text-anchor="end">500</text>
<text x="351.45" y="310.60" font-size="9.8" text-anchor="middle">1000</text>
<text x="269.30" y="244.10" font-size="9.8" text-anchor="end">1000</text>
<text x="390.67" y="310.60" font-size="9.8" text-anchor="middle">1500</text>
<text x="269.30" y="215.75" font-size="9.8" text-anchor="end">1500</text>
<text x="429.90" y="310.60" font-size="9.8" text-anchor="middle">2000</text>
<text x="269.30" y="187.40" font-size="9.8" text-anchor="end">2000</text>
<text x="351.95" y="324.50" font-size="11.4" text-anchor="middle">QCT (mg/cm<tspan font-size="7.8" dy="-5.2">3</tspan><tspan dy="5.2">)</tspan></text>
<text transform="translate(243.70 240.00) rotate(-90)" x="0" y="0" font-size="11.4" text-anchor="middle">CAL_CBCT (mg/cm<tspan font-size="7.8" dy="-5.2">3</tspan><tspan dy="5.2">)</tspan></text>
<text x="235.90" y="182.60" font-size="17.5">e</text>
<text x="279.90" y="193.20" font-size="8.7" xml:space="preserve">y = 0.35x + 106.72</text>
<text x="279.90" y="206.00" font-size="8.7">R<tspan font-size="6.4" dx="0.4" dy="-4">2</tspan><tspan dy="4"> = 0.28</tspan></text>
</g>
<g>
<clipPath id="clipf"><rect x="497.5" y="182.6" width="160.50" height="114.60"/></clipPath>
<path d="M564.5 277.6h1.8v1.8h-1.8zM543.3 278.0h1.8v1.8h-1.8zM578.6 274.8h1.8v1.8h-1.8zM548.4 283.1h1.8v1.8h-1.8zM558.1 278.1h1.8v1.8h-1.8zM565.4 276.3h1.8v1.8h-1.8zM545.9 271.9h1.8v1.8h-1.8zM553.7 280.1h1.8v1.8h-1.8zM542.0 279.6h1.8v1.8h-1.8zM547.8 287.6h1.8v1.8h-1.8zM542.6 279.3h1.8v1.8h-1.8zM558.4 276.7h1.8v1.8h-1.8zM559.5 274.0h1.8v1.8h-1.8zM555.7 281.1h1.8v1.8h-1.8zM567.4 274.9h1.8v1.8h-1.8zM568.0 272.4h1.8v1.8h-1.8zM558.7 284.9h1.8v1.8h-1.8zM557.2 286.0h1.8v1.8h-1.8zM555.2 275.4h1.8v1.8h-1.8zM553.5 272.9h1.8v1.8h-1.8zM568.6 281.2h1.8v1.8h-1.8zM559.0 273.1h1.8v1.8h-1.8zM557.0 291.1h1.8v1.8h-1.8zM555.8 276.9h1.8v1.8h-1.8zM562.6 281.3h1.8v1.8h-1.8zM553.7 271.6h1.8v1.8h-1.8zM560.1 276.8h1.8v1.8h-1.8zM558.1 282.6h1.8v1.8h-1.8zM568.5 277.9h1.8v1.8h-1.8zM566.4 273.5h1.8v1.8h-1.8zM548.3 290.6h1.8v1.8h-1.8zM557.0 281.0h1.8v1.8h-1.8zM563.1 275.4h1.8v1.8h-1.8zM553.8 274.9h1.8v1.8h-1.8zM563.8 275.1h1.8v1.8h-1.8zM561.2 283.4h1.8v1.8h-1.8zM561.8 273.0h1.8v1.8h-1.8zM557.2 277.5h1.8v1.8h-1.8zM559.5 273.1h1.8v1.8h-1.8zM562.6 282.7h1.8v1.8h-1.8zM546.2 278.2h1.8v1.8h-1.8zM551.2 282.4h1.8v1.8h-1.8zM550.2 281.2h1.8v1.8h-1.8zM570.4 272.7h1.8v1.8h-1.8zM560.5 280.3h1.8v1.8h-1.8zM561.3 281.4h1.8v1.8h-1.8zM558.3 271.7h1.8v1.8h-1.8zM554.2 281.3h1.8v1.8h-1.8zM554.3 295.1h1.8v1.8h-1.8zM564.1 275.0h1.8v1.8h-1.8zM555.3 280.8h1.8v1.8h-1.8zM569.1 269.2h1.8v1.8h-1.8zM559.6 279.3h1.8v1.8h-1.8zM558.1 274.4h1.8v1.8h-1.8zM556.5 281.2h1.8v1.8h-1.8zM557.1 277.2h1.8v1.8h-1.8zM557.2 271.7h1.8v1.8h-1.8zM570.3 280.9h1.8v1.8h-1.8zM575.7 273.8h1.8v1.8h-1.8zM548.1 273.7h1.8v1.8h-1.8zM559.8 277.4h1.8v1.8h-1.8zM562.6 271.9h1.8v1.8h-1.8zM551.0 280.2h1.8v1.8h-1.8zM552.8 277.7h1.8v1.8h-1.8zM554.0 276.1h1.8v1.8h-1.8zM539.5 283.2h1.8v1.8h-1.8zM561.9 270.5h1.8v1.8h-1.8zM558.1 282.0h1.8v1.8h-1.8zM555.7 267.8h1.8v1.8h-1.8zM559.5 284.9h1.8v1.8h-1.8zM559.8 277.9h1.8v1.8h-1.8zM575.5 273.5h1.8v1.8h-1.8zM558.7 273.6h1.8v1.8h-1.8zM564.6 279.0h1.8v1.8h-1.8zM553.6 277.1h1.8v1.8h-1.8zM560.4 276.1h1.8v1.8h-1.8zM556.0 282.6h1.8v1.8h-1.8zM556.3 275.4h1.8v1.8h-1.8zM550.6 277.2h1.8v1.8h-1.8zM551.7 280.3h1.8v1.8h-1.8zM562.0 282.0h1.8v1.8h-1.8zM563.5 275.8h1.8v1.8h-1.8zM561.5 277.6h1.8v1.8h-1.8zM552.6 278.3h1.8v1.8h-1.8zM560.8 280.6h1.8v1.8h-1.8zM539.1 287.2h1.8v1.8h-1.8zM564.5 271.8h1.8v1.8h-1.8zM557.4 276.7h1.8v1.8h-1.8zM559.9 276.8h1.8v1.8h-1.8zM567.2 278.9h1.8v1.8h-1.8zM555.6 285.0h1.8v1.8h-1.8zM565.2 276.2h1.8v1.8h-1.8zM554.6 278.8h1.8v1.8h-1.8zM562.8 282.2h1.8v1.8h-1.8zM553.8 271.8h1.8v1.8h-1.8zM559.7 273.3h1.8v1.8h-1.8zM568.8 273.6h1.8v1.8h-1.8zM552.8 278.0h1.8v1.8h-1.8zM553.3 279.1h1.8v1.8h-1.8zM555.0 275.2h1.8v1.8h-1.8zM561.4 285.4h1.8v1.8h-1.8zM578.7 270.9h1.8v1.8h-1.8zM553.3 277.0h1.8v1.8h-1.8zM542.8 284.8h1.8v1.8h-1.8zM553.4 281.7h1.8v1.8h-1.8zM545.6 279.0h1.8v1.8h-1.8zM553.8 279.7h1.8v1.8h-1.8zM558.6 281.2h1.8v1.8h-1.8zM550.5 278.3h1.8v1.8h-1.8zM553.1 281.1h1.8v1.8h-1.8zM542.8 274.9h1.8v1.8h-1.8zM559.4 277.4h1.8v1.8h-1.8zM551.0 270.2h1.8v1.8h-1.8zM565.7 271.8h1.8v1.8h-1.8zM565.3 270.6h1.8v1.8h-1.8zM552.0 284.2h1.8v1.8h-1.8zM554.8 275.4h1.8v1.8h-1.8zM558.6 278.6h1.8v1.8h-1.8zM563.2 272.0h1.8v1.8h-1.8zM544.9 278.1h1.8v1.8h-1.8zM557.2 276.0h1.8v1.8h-1.8zM571.8 271.1h1.8v1.8h-1.8zM557.9 281.4h1.8v1.8h-1.8zM558.6 268.9h1.8v1.8h-1.8zM558.4 280.2h1.8v1.8h-1.8zM550.5 291.3h1.8v1.8h-1.8zM564.8 272.2h1.8v1.8h-1.8zM560.1 277.0h1.8v1.8h-1.8zM558.2 269.5h1.8v1.8h-1.8zM563.6 276.2h1.8v1.8h-1.8zM562.9 267.9h1.8v1.8h-1.8zM543.7 282.2h1.8v1.8h-1.8zM561.4 274.2h1.8v1.8h-1.8zM552.2 268.8h1.8v1.8h-1.8zM558.4 270.6h1.8v1.8h-1.8zM551.4 270.2h1.8v1.8h-1.8zM551.1 276.6h1.8v1.8h-1.8zM566.0 280.1h1.8v1.8h-1.8zM557.7 275.1h1.8v1.8h-1.8zM555.0 271.6h1.8v1.8h-1.8zM555.2 273.2h1.8v1.8h-1.8zM558.7 277.4h1.8v1.8h-1.8zM556.3 265.2h1.8v1.8h-1.8zM540.1 282.3h1.8v1.8h-1.8zM551.6 279.8h1.8v1.8h-1.8zM554.6 265.3h1.8v1.8h-1.8zM564.6 281.8h1.8v1.8h-1.8zM567.5 267.4h1.8v1.8h-1.8zM550.7 276.8h1.8v1.8h-1.8zM573.9 280.4h1.8v1.8h-1.8zM557.7 268.8h1.8v1.8h-1.8zM560.6 267.3h1.8v1.8h-1.8zM553.2 271.9h1.8v1.8h-1.8zM552.7 272.2h1.8v1.8h-1.8zM569.2 274.5h1.8v1.8h-1.8zM556.1 274.4h1.8v1.8h-1.8zM557.0 274.4h1.8v1.8h-1.8zM566.8 273.1h1.8v1.8h-1.8zM571.4 274.0h1.8v1.8h-1.8zM546.0 274.2h1.8v1.8h-1.8zM557.0 278.5h1.8v1.8h-1.8zM558.1 276.7h1.8v1.8h-1.8zM571.6 269.8h1.8v1.8h-1.8zM578.6 282.9h1.8v1.8h-1.8zM557.0 270.6h1.8v1.8h-1.8zM561.7 279.9h1.8v1.8h-1.8zM564.5 272.1h1.8v1.8h-1.8zM567.5 277.2h1.8v1.8h-1.8zM556.2 279.6h1.8v1.8h-1.8zM565.6 280.0h1.8v1.8h-1.8zM553.9 284.4h1.8v1.8h-1.8zM537.1 275.6h1.8v1.8h-1.8zM549.6 292.1h1.8v1.8h-1.8zM560.3 278.5h1.8v1.8h-1.8zM563.9 272.0h1.8v1.8h-1.8zM540.0 272.6h1.8v1.8h-1.8zM546.0 290.1h1.8v1.8h-1.8zM559.3 284.8h1.8v1.8h-1.8zM532.3 280.4h1.8v1.8h-1.8zM563.3 279.9h1.8v1.8h-1.8zM567.4 282.1h1.8v1.8h-1.8zM535.5 280.5h1.8v1.8h-1.8zM564.2 273.9h1.8v1.8h-1.8zM557.0 276.9h1.8v1.8h-1.8zM570.1 279.4h1.8v1.8h-1.8zM561.7 266.1h1.8v1.8h-1.8zM554.0 264.1h1.8v1.8h-1.8zM566.2 267.6h1.8v1.8h-1.8zM551.0 262.2h1.8v1.8h-1.8zM557.0 265.1h1.8v1.8h-1.8zM569.2 263.2h1.8v1.8h-1.8zM563.0 262.2h1.8v1.8h-1.8zM563.0 269.1h1.8v1.8h-1.8zM562.2 264.3h1.8v1.8h-1.8zM567.9 262.2h1.8v1.8h-1.8zM561.2 265.4h1.8v1.8h-1.8zM549.6 262.2h1.8v1.8h-1.8zM563.1 267.1h1.8v1.8h-1.8zM542.8 267.9h1.8v1.8h-1.8zM549.0 268.5h1.8v1.8h-1.8zM571.3 262.1h1.8v1.8h-1.8zM567.9 264.9h1.8v1.8h-1.8zM558.7 271.0h1.8v1.8h-1.8zM561.1 264.7h1.8v1.8h-1.8zM562.1 269.2h1.8v1.8h-1.8zM567.7 270.0h1.8v1.8h-1.8zM556.8 261.1h1.8v1.8h-1.8zM556.1 269.0h1.8v1.8h-1.8zM557.7 267.6h1.8v1.8h-1.8zM562.4 268.0h1.8v1.8h-1.8zM552.3 288.3h1.8v1.8h-1.8zM547.3 289.8h1.8v1.8h-1.8zM545.7 283.3h1.8v1.8h-1.8zM547.9 284.5h1.8v1.8h-1.8zM544.0 286.5h1.8v1.8h-1.8zM547.4 285.7h1.8v1.8h-1.8zM537.2 283.0h1.8v1.8h-1.8zM552.5 277.4h1.8v1.8h-1.8zM543.2 280.4h1.8v1.8h-1.8zM547.6 277.2h1.8v1.8h-1.8zM546.7 289.8h1.8v1.8h-1.8zM545.8 281.7h1.8v1.8h-1.8zM545.9 282.6h1.8v1.8h-1.8zM545.7 284.5h1.8v1.8h-1.8zM538.7 283.4h1.8v1.8h-1.8zM543.2 285.5h1.8v1.8h-1.8zM550.3 280.8h1.8v1.8h-1.8zM541.2 277.1h1.8v1.8h-1.8zM541.1 290.5h1.8v1.8h-1.8zM554.0 280.4h1.8v1.8h-1.8zM601.5 275.5h1.8v1.8h-1.8zM608.1 258.6h1.8v1.8h-1.8zM596.8 273.9h1.8v1.8h-1.8zM579.4 261.8h1.8v1.8h-1.8zM607.2 284.0h1.8v1.8h-1.8zM612.6 271.8h1.8v1.8h-1.8zM575.3 259.3h1.8v1.8h-1.8zM611.6 280.1h1.8v1.8h-1.8zM599.6 269.9h1.8v1.8h-1.8zM598.6 278.2h1.8v1.8h-1.8zM590.0 271.4h1.8v1.8h-1.8zM580.8 281.6h1.8v1.8h-1.8zM598.7 263.5h1.8v1.8h-1.8zM610.4 284.2h1.8v1.8h-1.8zM575.1 255.6h1.8v1.8h-1.8zM596.9 266.4h1.8v1.8h-1.8zM600.2 259.8h1.8v1.8h-1.8zM611.8 284.7h1.8v1.8h-1.8zM574.7 255.7h1.8v1.8h-1.8zM589.3 263.8h1.8v1.8h-1.8zM579.3 266.7h1.8v1.8h-1.8zM586.8 257.4h1.8v1.8h-1.8zM611.3 282.6h1.8v1.8h-1.8zM581.5 278.2h1.8v1.8h-1.8zM588.8 271.2h1.8v1.8h-1.8zM607.8 267.3h1.8v1.8h-1.8zM604.8 260.9h1.8v1.8h-1.8zM611.7 260.0h1.8v1.8h-1.8zM579.2 267.3h1.8v1.8h-1.8zM577.0 273.5h1.8v1.8h-1.8zM583.2 280.7h1.8v1.8h-1.8zM594.4 262.4h1.8v1.8h-1.8zM551.1 289.1h1.8v1.8h-1.8zM559.1 291.1h1.8v1.8h-1.8zM569.1 289.1h1.8v1.8h-1.8z" fill="#000" clip-path="url(#clipf)"/>
<line x1="497.5" y1="297.2" x2="658.0" y2="182.6" stroke="#111" stroke-width="1.1" stroke-dasharray="1.2 0.95" clip-path="url(#clipf)"/>
<line x1="497.50" y1="290.42" x2="658.00" y2="257.19" stroke="#262626" stroke-width="1.4" clip-path="url(#clipf)"/>
<rect x="497.5" y="182.6" width="160.50" height="114.60" fill="none" stroke="#666" stroke-width="1.1"/>
<path d="M537.62 297.2v-1.6M537.62 182.6v1.6M497.5 268.55h1.6M658.0 268.55h-1.6M577.75 297.2v-1.6M577.75 182.6v1.6M497.5 239.90h1.6M658.0 239.90h-1.6M617.88 297.2v-1.6M617.88 182.6v1.6M497.5 211.25h1.6M658.0 211.25h-1.6" stroke="#666" stroke-width="0.8"/>
<text x="497.50" y="310.80" font-size="9.8" text-anchor="middle">0</text>
<text x="494.30" y="301.00" font-size="9.8" text-anchor="end">0</text>
<text x="537.62" y="310.80" font-size="9.8" text-anchor="middle">500</text>
<text x="494.30" y="272.35" font-size="9.8" text-anchor="end">500</text>
<text x="577.75" y="310.80" font-size="9.8" text-anchor="middle">1000</text>
<text x="494.30" y="243.70" font-size="9.8" text-anchor="end">1000</text>
<text x="617.88" y="310.80" font-size="9.8" text-anchor="middle">1500</text>
<text x="494.30" y="215.05" font-size="9.8" text-anchor="end">1500</text>
<text x="658.00" y="310.80" font-size="9.8" text-anchor="middle">2000</text>
<text x="494.30" y="186.40" font-size="9.8" text-anchor="end">2000</text>
<text x="578.25" y="324.70" font-size="11.4" text-anchor="middle">QCT (mg/cm<tspan font-size="7.8" dy="-5.2">3</tspan><tspan dy="5.2">)</tspan></text>
<text transform="translate(468.00 239.70) rotate(-90)" x="0" y="0" font-size="11.4" text-anchor="middle">CAL_CBCT (mg/cm<tspan font-size="7.8" dy="-5.2">3</tspan><tspan dy="5.2">)</tspan></text>
<text x="461.40" y="182.60" font-size="17.5">f</text>
<text x="504.40" y="193.40" font-size="8.7" xml:space="preserve">y = 0.29x + 118.303</text>
<text x="504.40" y="206.50" font-size="8.7">R<tspan font-size="6.4" dx="0.4" dy="-4">2</tspan><tspan dy="4"> = 0.21</tspan></text>
</g>
</g></svg></body></html>
